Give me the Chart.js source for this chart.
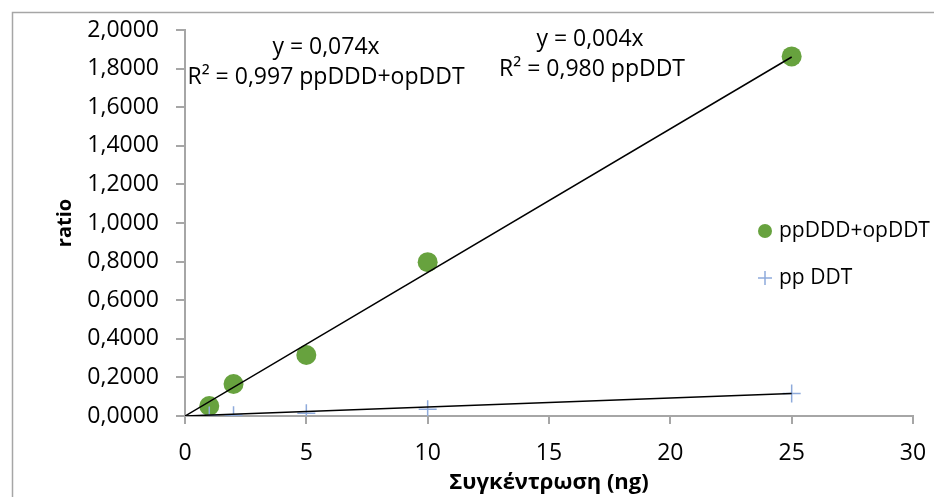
<!DOCTYPE html>
<html>
<head>
<meta charset="utf-8">
<script src="https://cdn.jsdelivr.net/npm/chart.js@4/dist/chart.umd.min.js"></script>
<style>
  body { margin: 0; background: #fff; }
  #wrap { width: 934px; height: 497px; position: relative; }
</style>
</head>
<body>
<div id="wrap"><canvas id="myChart"></canvas></div>
<script>
// values
let concX = [1, 2, 5, 10, 25];
let dddValues = [0.052, 0.166, 0.316, 0.797, 1.863];
let ddtValues = [0.002, 0.004, 0.014, 0.035, 0.117];
let trendX = [0, 25];
let trendDdd = [0, 1.86];
let trendDdt = [0, 0.117];
let xTicks = [0, 5, 10, 15, 20, 25, 30];
let yTicks = [0, 0.2, 0.4, 0.6, 0.8, 1.0, 1.2, 1.4, 1.6, 1.8, 2.0];
let labelDdd = ['y = 0,074x', 'R² = 0,997 ppDDD+opDDT'];
let labelDdt = ['y = 0,004x', 'R² = 0,980 ppDDT'];

const green = '#67a23e';
const blue = '#8eaadb';
const axisGrey = '#a6a6a6';
const font = 'Open Sans';

function toPoints(xs, ys) {
    return xs.map(function (x, i) {
        return { x: x, y: ys[i] };
    });
}

// frame, trendline labels and the legend that sits inside the plot
const extras = {
    id: 'extras',
    beforeDraw: function (chart) {
        let ctx = chart.ctx;
        ctx.save();
        ctx.strokeStyle = axisGrey;
        ctx.lineWidth = 1.5;
        ctx.beginPath();
        ctx.moveTo(12.5, 497);
        ctx.lineTo(12.5, 12.5);
        ctx.lineTo(934, 12.5);
        ctx.stroke();
        ctx.restore();
    },
    afterDraw: function (chart) {
        let ctx = chart.ctx;
        ctx.save();
        ctx.fillStyle = '#000';
        ctx.font = '23px "' + font + '"';
        ctx.textAlign = 'center';
        ctx.textBaseline = 'middle';
        ctx.fillText(labelDdd[0], 326, 47);
        ctx.fillText(labelDdd[1], 326, 77);
        ctx.fillText(labelDdt[0], 590, 39);
        ctx.fillText(labelDdt[1], 592, 69);

        // legend
        ctx.font = '21px "' + font + '"';
        ctx.textAlign = 'left';
        ctx.fillStyle = green;
        ctx.beginPath();
        ctx.arc(765, 231, 7, 0, Math.PI * 2);
        ctx.fill();
        ctx.strokeStyle = blue;
        ctx.lineWidth = 1.5;
        ctx.beginPath();
        ctx.moveTo(758, 278);
        ctx.lineTo(772, 278);
        ctx.moveTo(765, 271);
        ctx.lineTo(765, 285);
        ctx.stroke();
        ctx.fillStyle = '#000';
        ctx.fillText(chart.data.datasets[0].label, 779, 231);
        ctx.fillText(chart.data.datasets[1].label, 779, 278);
        ctx.restore();
    }
};

var ctx = document.getElementById('myChart').getContext('2d');
var myChart = new Chart(ctx, {
    type: 'scatter',
    data: {
        datasets: [
            {
                label: 'ppDDD+opDDT',
                data: toPoints(concX, dddValues),
                backgroundColor: green,
                borderColor: green,
                borderWidth: 0,
                pointRadius: 10,
                order: 2
            },
            {
                label: 'pp DDT',
                data: toPoints(concX, ddtValues),
                pointStyle: 'cross',
                borderColor: blue,
                borderWidth: 1.5,
                pointRadius: 9,
                order: 1
            },
            {
                label: 'trend ppDDD+opDDT',
                data: toPoints(trendX, trendDdd),
                showLine: true,
                borderColor: '#000',
                borderWidth: 1.5,
                pointRadius: 0,
                order: 0
            },
            {
                label: 'trend ppDDT',
                data: toPoints(trendX, trendDdt),
                showLine: true,
                borderColor: '#000',
                borderWidth: 1.5,
                pointRadius: 0,
                order: 0
            }
        ]
    },
    options: {
        responsive: true,
        maintainAspectRatio: false,
        animation: false,
        layout: {
            padding: { top: 30, right: 21, left: 0, bottom: 0 }
        },
        plugins: {
            legend: { display: false },
            tooltip: { enabled: false }
        },
        scales: {
            x: {
                type: 'linear',
                min: 0,
                max: 30,
                afterBuildTicks: function (scale) {
                    scale.ticks = xTicks.map(function (v) { return { value: v }; });
                },
                afterFit: function (scale) {
                    scale.height = 81;
                    scale.paddingLeft = 0;
                    scale.paddingRight = 0;
                },
                border: { color: axisGrey, width: 2 },
                grid: {
                    drawOnChartArea: false,
                    drawTicks: true,
                    tickLength: 8,
                    color: axisGrey,
                    lineWidth: 2
                },
                ticks: {
                    color: '#000',
                    padding: 16,
                    font: { family: font, size: 23 }
                },
                title: {
                    display: true,
                    text: 'Συγκέντρωση (ng)',
                    color: '#000',
                    padding: { top: 0, bottom: 1 },
                    font: { family: font, size: 22, weight: 'bold' }
                }
            },
            y: {
                type: 'linear',
                min: 0,
                max: 2,
                afterBuildTicks: function (scale) {
                    scale.ticks = yTicks.map(function (v) { return { value: v }; });
                },
                afterFit: function (scale) {
                    scale.width = 185;
                    scale.paddingTop = 0;
                    scale.paddingBottom = 0;
                },
                border: { color: axisGrey, width: 2 },
                grid: {
                    drawOnChartArea: false,
                    drawTicks: true,
                    tickLength: 9,
                    color: axisGrey,
                    lineWidth: 2
                },
                ticks: {
                    color: '#000',
                    padding: 17,
                    font: { family: font, size: 23 },
                    callback: function (value) {
                        return value.toFixed(4).replace('.', ',');
                    }
                },
                title: {
                    display: true,
                    text: 'ratio',
                    color: '#000',
                    padding: { top: 53, bottom: 0 },
                    font: { family: font, size: 20, weight: 'bold' }
                }
            }
        }
    },
    plugins: [extras]
});
</script>
</body>
</html>
